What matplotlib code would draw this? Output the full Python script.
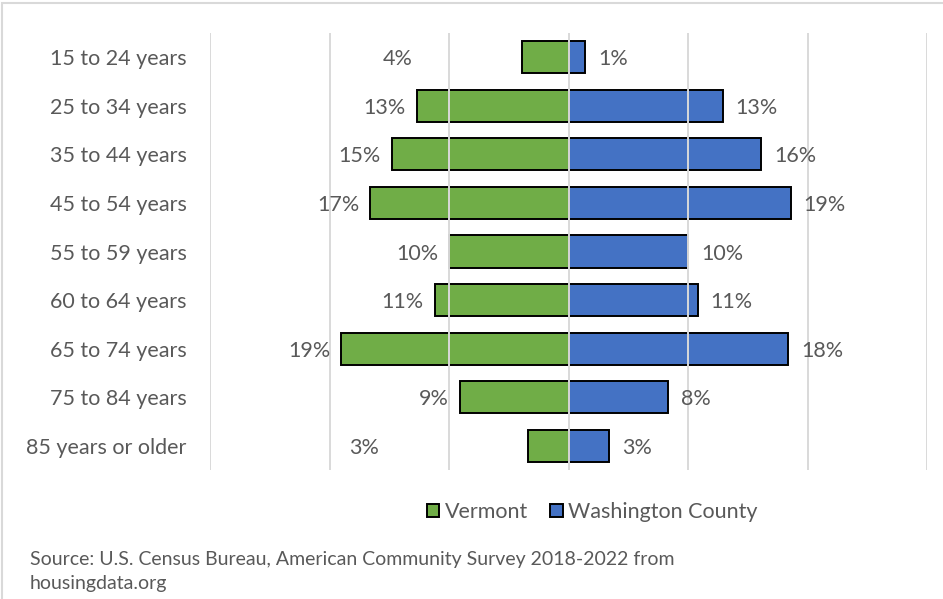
import matplotlib.pyplot as plt
from matplotlib.patches import Rectangle

# age groups, top to bottom
age_groups = ["15 to 24 years", "25 to 34 years", "35 to 44 years", "45 to 54 years",
              "55 to 59 years", "60 to 64 years", "65 to 74 years", "75 to 84 years",
              "85 years or older"]
# share of householders by age (%)
vermont = [3.9, 12.7, 14.8, 16.6, 10.0, 11.2, 19.0, 9.1, 3.4]
washington = [1.4, 12.9, 16.1, 18.6, 10.0, 10.8, 18.4, 8.3, 3.4]

GREEN = "#70AD47"
BLUE = "#4472C4"
GRID = "#D9D9D9"
TEXT = "#595959"
FONT = "Lato"
FS = 15.5

fig = plt.figure(figsize=(9.43, 5.99), dpi=100, facecolor="white")
ax = fig.add_axes([210 / 943, 129 / 599, 717 / 943, 437 / 599])

y = list(range(len(age_groups)))
ax.barh(y, [-v for v in vermont], height=0.66, color=GREEN, edgecolor="black",
        linewidth=1.4, zorder=2)
ax.barh(y, washington, height=0.66, color=BLUE, edgecolor="black",
        linewidth=1.4, zorder=2)

ax.set_xlim(-30, 30)
ax.set_ylim(len(age_groups) - 0.5, -0.5)
ax.set_xticks(range(-30, 31, 10))
ax.xaxis.grid(True, color=GRID, linewidth=1.4, zorder=3)
ax.set_axisbelow(False)
ax.tick_params(axis="x", length=0, labelbottom=False)
ax.tick_params(axis="y", length=0, pad=17)
ax.set_yticks(y)
ax.set_yticklabels(age_groups, fontsize=FS, color=TEXT, family=FONT)
for s in ax.spines.values():
    s.set_visible(False)

# value labels; a couple of the small Vermont labels sit further out
shift = {0: -98, 8: -138}
for i, (v, w) in enumerate(zip(vermont, washington)):
    ax.annotate(f"{v:.0f}%", (-v, i), xytext=(-11 + shift.get(i, 0), 0),
                textcoords="offset pixels", ha="right", va="center_baseline",
                fontsize=FS, color=TEXT, family=FONT)
    ax.annotate(f"{w:.0f}%", (w, i), xytext=(13, 0), textcoords="offset pixels",
                ha="left", va="center_baseline", fontsize=FS, color=TEXT, family=FONT)

# legend
handles = [Rectangle((0, 0), 1, 1, facecolor=GREEN, edgecolor="black", linewidth=1.4),
           Rectangle((0, 0), 1, 1, facecolor=BLUE, edgecolor="black", linewidth=1.4)]
leg = fig.legend(handles, ["Vermont", "Washington County"], loc="center",
                 bbox_to_anchor=(592 / 943, 1 - 512 / 599), ncol=2, frameon=False,
                 handlelength=0.6, handleheight=0.6, handletextpad=0.25,
                 columnspacing=1.0, prop={"family": FONT, "size": FS})
for t in leg.get_texts():
    t.set_color(TEXT)

fig.text(30 / 943, 1 - 560 / 599,
         "Source: U.S. Census Bureau, American Community Survey 2018-2022 from",
         fontsize=14, color=TEXT, family=FONT, va="center", ha="left")
fig.text(30 / 943, 1 - 584 / 599, "housingdata.org",
         fontsize=14, color=TEXT, family=FONT, va="center", ha="left")

# outer chart border
fig.add_artist(Rectangle((2 / 943, -0.01), 1.1, 1 - 3 / 599 + 0.01,
                         transform=fig.transFigure, facecolor="none",
                         edgecolor=GRID, linewidth=1.5))

fig.savefig("out.png", dpi=100, facecolor="white")
